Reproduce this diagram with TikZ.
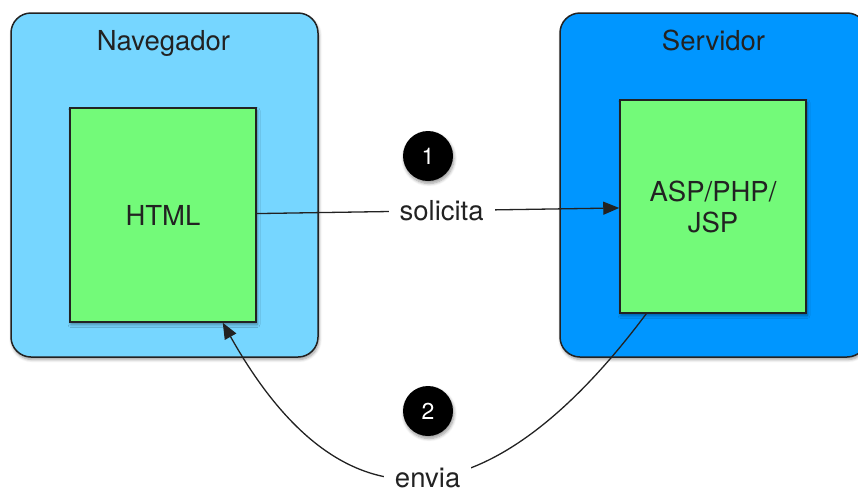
\documentclass[tikz,border=0pt]{standalone}
\usepackage{fontspec}
\setmainfont{TeX Gyre Heros}
\usetikzlibrary{arrows.meta,shadows.blur}
\definecolor{sky}{HTML}{76D6FF}
\definecolor{aqua}{HTML}{0096FF}
\definecolor{flora}{HTML}{73FA79}
\definecolor{ink}{HTML}{222222}

\begin{document}
\begin{tikzpicture}[x=1pt,y=-1pt,
  softshadow/.style={blur shadow={shadow xshift=1pt, shadow yshift=-2.5pt,
      shadow opacity=40, shadow blur steps=6, shadow blur radius=3pt}},
  container/.style={draw=ink, line width=1.5pt, rounded corners=20pt,
      minimum width=307pt, minimum height=344pt, inner sep=0pt, softshadow},
  page/.style={draw=ink, line width=1.5pt, fill=flora, align=center,
      minimum width=186pt, minimum height=214pt, inner sep=0pt,
      text=ink, font=\fontsize{27.5}{31}\selectfont, softshadow},
  title/.style={anchor=base, text=ink, font=\fontsize{27.5}{31}\selectfont},
  badge/.style={circle, fill=black, minimum size=50pt, inner sep=0pt,
      text=white, font=\fontsize{23}{26}\selectfont, softshadow},
  conn/.style={draw=ink, line width=1.3pt,
      -{Triangle[length=16pt,width=13pt]}},
  lbl/.style={fill=white, inner xsep=11pt, inner ysep=2pt, text=ink,
      font=\fontsize{27.5}{31}\selectfont},
]
\useasboundingbox (0,0) rectangle (858,488);
\clip (0,0) rectangle (858,488);

% browser and server containers
\node[container, fill=sky]  (nav) at (164.5,185) {};
\node[container, fill=aqua] (srv) at (713.5,185) {};
\node[title] (navt) at (163.5,50) {Navegador};
\node[title] (srvt) at (713.5,50) {Servidor};

% documents inside each container
\node[page] (html) at (163,215) {HTML};
\node[page, minimum height=213pt] (asp) at (713,206.5) {ASP/PHP/\\JSP};

% step markers
\node[badge] (n1) at (428,156) {1};
\node[badge] (n2) at (428,411) {2};

% request and response
\draw[conn] (html) -- (asp) node[lbl, pos=0.51] {solicita};
\draw[conn] ([xshift=27pt]asp.south west)
  .. controls (511,495) and (357,562) ..
  ([xshift=-34pt]html.south east) node[lbl, pos=0.515, yshift=-1pt] {envia};
\end{tikzpicture}
\end{document}
